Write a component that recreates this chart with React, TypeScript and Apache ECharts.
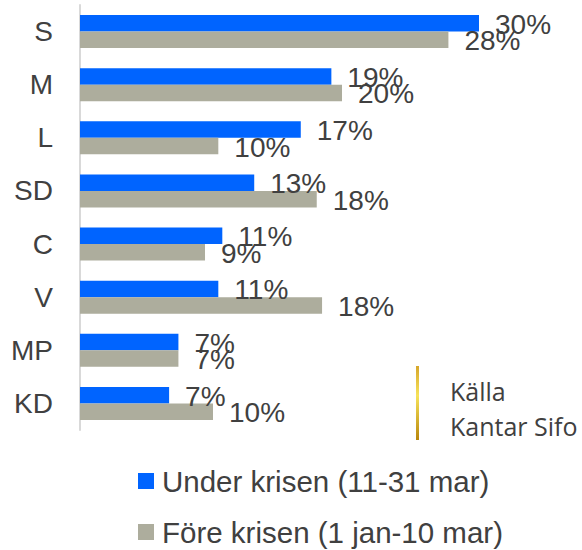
import React, { useEffect, useRef } from "react";
import * as echarts from "echarts";

const categories = ["S", "M", "L", "SD", "C", "V", "MP", "KD"];
const underValues = [30.0, 18.9, 16.6, 13.1, 10.7, 10.4, 7.4, 6.7];
const foreValues = [27.7, 19.7, 10.4, 17.8, 9.4, 18.2, 7.4, 10.0];
const underLabels = ["30%", "19%", "17%", "13%", "11%", "11%", "7%", "7%"];
const foreLabels = ["28%", "20%", "10%", "18%", "9%", "18%", "7%", "10%"];
const seriesNames = ["Under krisen (11-31 mar)", "Före krisen (1 jan-10 mar)"];
const sourceLines = ["Källa", "Kantar Sifo"];

const BLUE = "#0064ff";
const GREY = "#adad9d";
const TEXT = "#404040";
const FONT = "'Liberation Sans', Arial, sans-serif";

export default function App() {
  const ref = useRef<HTMLDivElement>(null);
  useEffect(() => {
    if (!ref.current) return;
    const chart = echarts.init(ref.current, null, { renderer: "svg" });
    const labelCfg = (labels: string[]) => ({
      show: true,
      position: "right",
      distance: 16,
      offset: [0, 1],
      color: TEXT,
      fontSize: 28,
      fontFamily: FONT,
      formatter: (p: any) => labels[p.dataIndex],
    });
    chart.setOption({
      animation: false,
      grid: { left: 80, top: 5, width: 465.5, height: 425, containLabel: false },
      xAxis: {
        type: "value",
        min: 0,
        max: 35,
        show: false,
      },
      yAxis: {
        type: "category",
        data: categories,
        inverse: true,
        axisLine: { show: true, lineStyle: { color: "#d9d9d9", width: 2 } },
        axisTick: { show: false },
        axisLabel: { color: TEXT, fontSize: 28, fontFamily: FONT, margin: 27 },
      },
      legend: {
        orient: "vertical",
        left: 138,
        top: 466,
        height: 100,
        padding: 0,
        itemWidth: 16,
        itemHeight: 16,
        itemGap: 21,
        icon: "rect",
        textStyle: { color: TEXT, fontSize: 29.5, fontFamily: FONT, lineHeight: 30, padding: [0, 0, 0, 3] },
        data: seriesNames,
      },
      series: [
        {
          name: seriesNames[0],
          type: "bar",
          data: underValues,
          itemStyle: { color: BLUE },
          barWidth: 16.5,
          barGap: "0%",
          label: labelCfg(underLabels),
        },
        {
          name: seriesNames[1],
          type: "bar",
          data: foreValues,
          itemStyle: { color: GREY },
          barWidth: 16.5,
          barGap: "0%",
          label: labelCfg(foreLabels),
        },
      ],
      graphic: [
        {
          type: "rect",
          shape: { x: 416, y: 366, width: 3, height: 74 },
          style: {
            fill: new echarts.graphic.LinearGradient(0, 0, 0, 1, [
              { offset: 0, color: "#d6a62a" },
              { offset: 0.4, color: "#f7e35a" },
              { offset: 1, color: "#b8860b" },
            ]),
          },
        },
        {
          type: "text",
          left: 450,
          top: 373,
          style: {
            text: sourceLines.join("\n"),
            fill: TEXT,
            fontSize: 25,
            lineHeight: 35,
            fontFamily: "'Open Sans', sans-serif",
          },
        },
      ],
    });
    return () => chart.dispose();
  }, []);
  return (
    <div
      ref={ref}
      style={{ position: "absolute", left: 0, top: 0, width: 582, height: 550 }}
    />
  );
}
